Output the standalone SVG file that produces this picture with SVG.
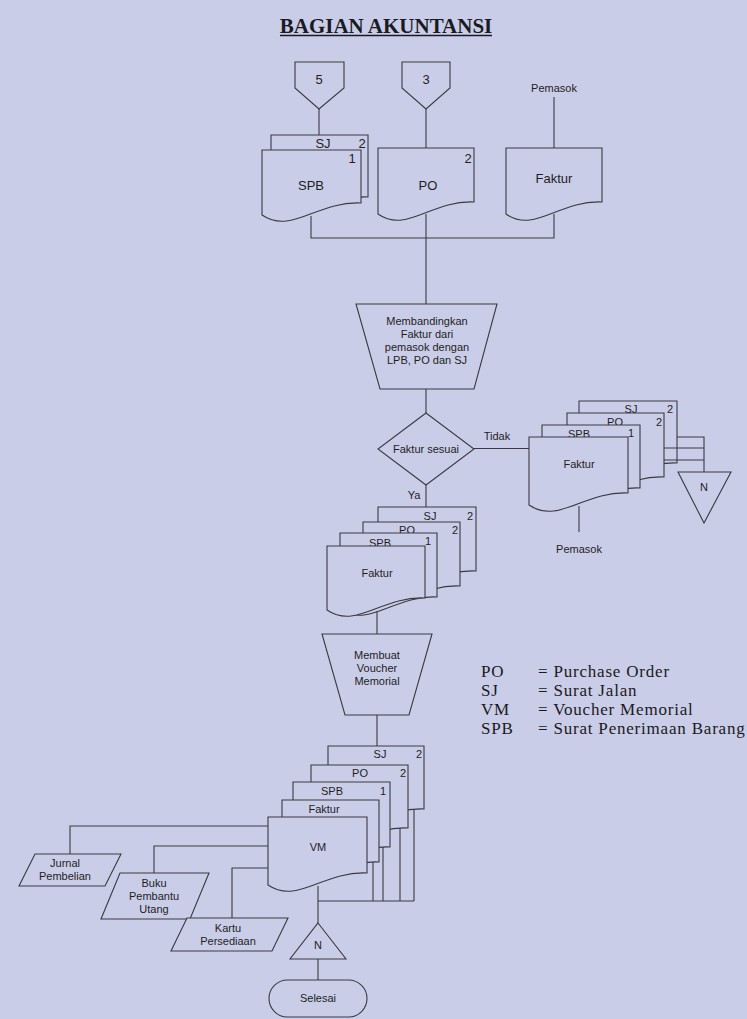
<svg xmlns="http://www.w3.org/2000/svg" width="747" height="1019" viewBox="0 0 747 1019">
<style>
.s{fill:#cacde8;stroke:#3a3a40;stroke-width:1.1}
.c{fill:none;stroke:#3a3a40;stroke-width:1.1}
.t{font-family:"Liberation Sans",Arial,sans-serif;font-size:11px;fill:#1e1e24;text-anchor:middle}
.b{font-size:13px}
.l{font-family:"Liberation Serif","Times New Roman",serif;font-size:17px;letter-spacing:0.8px;fill:#1a1a22}
</style>
<rect width="747" height="1019" fill="#cacde8"/>
<g id="title">
<text x="386" y="33" font-family="Liberation Serif,serif" font-weight="bold" font-size="21" fill="#1a1a22" text-anchor="middle">BAGIAN AKUNTANSI</text>
<line x1="280" y1="35.5" x2="492" y2="35.5" stroke="#1a1a22" stroke-width="1.5"/>
</g>
<g id="conn5"><path class="s" d="M295 62H344V88L319 109L295 88Z"/><text class="t b" x="319" y="84">5</text></g>
<g id="conn3"><path class="s" d="M402 62H450V88L426 109L402 88Z"/><text class="t b" x="426" y="84">3</text></g>
<g id="pemasok-top"><text class="t" x="554" y="92">Pemasok</text></g>
<g id="doc-top-sj"><path class="s" d="M271 135H368V197C324.4 195 300.1 229 271 209Z"/><text class="t b" x="323" y="148">SJ</text><text class="t b" x="362" y="148">2</text></g>
<g id="doc-top-spb"><path class="s" d="M262 150H361V203C316.5 201 291.7 235 262 215Z"/><text class="t b" x="352" y="163">1</text><text class="t b" x="311" y="190">SPB</text></g>
<g id="doc-top-po"><path class="s" d="M378 148H474V202C430.8 200 406.8 234 378 214Z"/><text class="t b" x="468" y="163">2</text><text class="t b" x="428" y="190">PO</text></g>
<g id="doc-top-faktur"><path class="s" d="M506 148H602V202C558.8 200 534.8 234 506 214Z"/><text class="t b" x="554" y="183">Faktur</text></g>
<g id="proc-membandingkan"><path class="s" d="M356 304H497L474 389H380Z"/>
<text class="t" x="427" y="325">Membandingkan</text><text class="t" x="427" y="338">Faktur dari</text><text class="t" x="427" y="351">pemasok dengan</text><text class="t" x="427" y="364">LPB, PO dan SJ</text></g>
<g id="decision"><path class="s" d="M426 413L474 449L426 485L378 449Z"/><text class="t" x="426" y="453">Faktur sesuai</text></g>
<g id="label-tidak"><text class="t" x="497" y="440">Tidak</text></g>
<g id="label-ya"><text class="t" x="414" y="499">Ya</text></g>
<g id="doc-r-sj"><path class="s" d="M579 401H677V463C632.9 461 608.4 495 579 475Z"/><text class="t" x="631" y="413">SJ</text><text class="t" x="670" y="413">2</text></g>
<g id="doc-r-po"><path class="s" d="M567 413H664V477C620.4 475 596.1 509 567 489Z"/><text class="t" x="615" y="426">PO</text><text class="t" x="659" y="426">2</text></g>
<g id="doc-r-spb"><path class="s" d="M542 425H640V488C595.9 486 571.4 520 542 500Z"/><text class="t" x="579" y="438">SPB</text><text class="t" x="631" y="437">1</text></g>
<g id="doc-r-faktur"><path class="s" d="M529 437H628V493C583.5 491 558.7 525 529 505Z"/><text class="t" x="579" y="468">Faktur</text></g>
<g id="pemasok-r"><text class="t" x="579" y="553">Pemasok</text></g>
<g id="n-right"><path class="s" d="M678 472H731L704 523Z"/><text class="t" x="704" y="491">N</text></g>
<g id="doc-m-sj"><path class="s" d="M378 507H476V571C431.9 569 407.4 603 378 583Z"/><text class="t" x="430" y="520">SJ</text><text class="t" x="470" y="520">2</text></g>
<g id="doc-m-po"><path class="s" d="M363 522H460V586C416.4 584 392.1 618 363 598Z"/><text class="t" x="407" y="534">PO</text><text class="t" x="455" y="534">2</text></g>
<g id="doc-m-spb"><path class="s" d="M340 533H437V597C393.4 595 369.1 629 340 609Z"/><text class="t" x="380" y="547">SPB</text><text class="t" x="428" y="545">1</text></g>
<g id="doc-m-faktur"><path class="s" d="M327 546H425V598C380.9 596 356.4 630 327 610Z"/><text class="t" x="377" y="577">Faktur</text></g>
<g id="proc-voucher"><path class="s" d="M322 634H432L409 715H345Z"/><text class="t" x="377" y="659">Membuat</text><text class="t" x="377" y="672">Voucher</text><text class="t" x="377" y="685">Memorial</text></g>
<g id="legend">
<text class="l" x="481" y="677">PO</text><text class="l" x="538" y="677">= Purchase Order</text>
<text class="l" x="481" y="696">SJ</text><text class="l" x="538" y="696">= Surat Jalan</text>
<text class="l" x="481" y="715">VM</text><text class="l" x="538" y="715">= Voucher Memorial</text>
<text class="l" x="481" y="734">SPB</text><text class="l" x="538" y="734">= Surat Penerimaan Barang</text>
</g>
<g id="doc-b-sj"><path class="s" d="M328 746H424V809C380.8 807 356.8 841 328 821Z"/><text class="t" x="380" y="758">SJ</text><text class="t" x="419" y="758">2</text></g>
<g id="doc-b-po"><path class="s" d="M311 765H408V828C364.4 826 340.1 860 311 840Z"/><text class="t" x="360" y="777">PO</text><text class="t" x="403" y="777">2</text></g>
<g id="doc-b-spb"><path class="s" d="M293 782H390V847C346.4 845 322.1 879 293 859Z"/><text class="t" x="332" y="795">SPB</text><text class="t" x="383" y="795">1</text></g>
<g id="doc-b-faktur"><path class="s" d="M282 800H379V862C335.4 860 311.1 894 282 874Z"/><text class="t" x="324" y="813">Faktur</text></g>
<g id="doc-b-vm"><path class="s" d="M268 817H367V873C322.5 871 297.7 905 268 885Z"/><text class="t" x="318" y="851">VM</text></g>
<g id="jurnal"><path class="s" d="M35 854H121L105 886H19Z"/><text class="t" x="65" y="867">Jurnal</text><text class="t" x="65" y="880">Pembelian</text></g>
<g id="buku"><path class="s" d="M120 873H209L190 919H101Z"/><text class="t" x="154" y="887">Buku</text><text class="t" x="154" y="900">Pembantu</text><text class="t" x="154" y="913">Utang</text></g>
<g id="kartu"><path class="s" d="M187 918H288L272 951H171Z"/><text class="t" x="228" y="932">Kartu</text><text class="t" x="228" y="945">Persediaan</text></g>
<g id="n-bottom"><path class="s" d="M318 923L346 959H290Z"/><text class="t" x="318" y="949">N</text></g>
<g id="selesai"><rect class="s" x="269" y="980" width="98" height="37" rx="18.5"/><text class="t" x="318" y="1002">Selesai</text></g>
<g id="connectors" class="c">
<path d="M319 109V135"/>
<path d="M426 109V148"/>
<path d="M554 97V148"/>
<path d="M311 216V238H554V214"/>
<path d="M426 214V304"/>
<path d="M426 389V413"/>
<path d="M474 448.5H529"/>
<path d="M579 506V532"/>
<path d="M677 437H704V472M664 448H704M664 460H704"/>
<path d="M426 485V507"/>
<path d="M377 611V634"/>
<path d="M377 715V746"/>
<path d="M268 826H70V854"/>
<path d="M268 846H154V873"/>
<path d="M268 868H232V918"/>
<path d="M373 862V901M383 847V901M400 828V901M414 809V901M318 901H414"/>
<path d="M318 886V923"/>
<path d="M318 959V980"/>
</g>
</svg>
